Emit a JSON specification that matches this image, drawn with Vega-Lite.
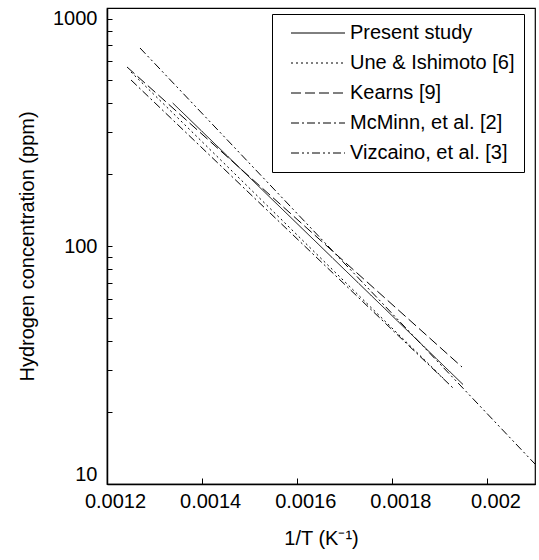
{
  "$schema": "https://vega.github.io/schema/vega-lite/v6.json",
  "width": 428,
  "height": 476,
  "autosize": {"type": "none"},
  "padding": {"left": 107, "top": 8, "right": 4, "bottom": 76},
  "background": "white",
  "config": {
    "font": "Liberation Sans",
    "view": {"stroke": "#000", "strokeWidth": 1.2},
    "axis": {
      "domainColor": "#000",
      "domainWidth": 1.5,
      "tickColor": "#000",
      "tickWidth": 1,
      "labelColor": "#000",
      "titleColor": "#000",
      "labelFontSize": 20,
      "titleFontSize": 20,
      "titleFontWeight": "normal",
      "grid": false
    },
    "legend": {
      "labelFontSize": 20,
      "labelColor": "#000",
      "labelFont": "Liberation Sans",
      "labelLimit": 400
    }
  },
  "data": {
    "values": [
      {"series": "Present study", "x": 0.0013382, "y": 398.9},
      {"series": "Present study", "x": 0.0019486, "y": 26.19},
      {"series": "Une & Ishimoto [6]", "x": 0.0012505, "y": 538.4},
      {"series": "Une & Ishimoto [6]", "x": 0.0019107, "y": 27.35},
      {"series": "Kearns [9]", "x": 0.0012421, "y": 565.1},
      {"series": "Kearns [9]", "x": 0.0019465, "y": 31.01},
      {"series": "McMinn, et al. [2]", "x": 0.0012505, "y": 498.3},
      {"series": "McMinn, et al. [2]", "x": 0.0019276, "y": 25.32},
      {"series": "Vizcaino, et al. [3]", "x": 0.0012694, "y": 679.0},
      {"series": "Vizcaino, et al. [3]", "x": 0.0021, "y": 12.13}
    ]
  },
  "mark": {"type": "line", "color": "#000", "strokeWidth": 1, "clip": true},
  "encoding": {
    "x": {
      "field": "x",
      "type": "quantitative",
      "scale": {"domain": [0.0012, 0.0021], "nice": false, "zero": false},
      "axis": {
        "title": "1/T (K⁻¹)",
        "values": [0.0012, 0.0014, 0.0016, 0.0018, 0.002],
        "format": ".4~f",
        "tickSize": -6,
        "labelPadding": 13,
        "labelOffset": 8,
        "labelFlush": false,
        "titlePadding": 17
      }
    },
    "y": {
      "field": "y",
      "type": "quantitative",
      "scale": {"type": "log", "domain": [10, 1000], "nice": false},
      "axis": {
        "title": "Hydrogen concentration (ppm)",
        "values": [10, 20, 30, 40, 50, 60, 70, 80, 90, 100, 200, 300, 400, 500, 600, 700, 800, 900, 1000],
        "labelExpr": "indexof([10, 100, 1000], datum.value) >= 0 ? format(datum.value, 'd') : ''",
        "tickSize": -5,
        "labelPadding": 15,
        "labelFlush": true,
        "titlePadding": 15
      }
    },
    "detail": {"field": "series"},
    "strokeDash": {
      "field": "series",
      "type": "nominal",
      "sort": null,
      "scale": {
        "domain": ["Present study", "Une & Ishimoto [6]", "Kearns [9]", "McMinn, et al. [2]", "Vizcaino, et al. [3]"],
        "range": [[1, 0], [2, 3], [10, 4], [8, 3, 2, 3], [8, 3, 2, 3, 2, 3]]
      },
      "legend": {
        "title": null,
        "orient": "none",
        "legendX": 165,
        "legendY": 6,
        "strokeColor": "#000",
        "fillColor": "white",
        "padding": 9,
        "symbolType": "M-1,0H5",
        "symbolSize": 324,
        "symbolOffset": 9,
        "symbolStrokeWidth": 1,
        "symbolStrokeColor": "#000",
        "rowPadding": 10,
        "labelOffset": 40
      }
    }
  }
}
